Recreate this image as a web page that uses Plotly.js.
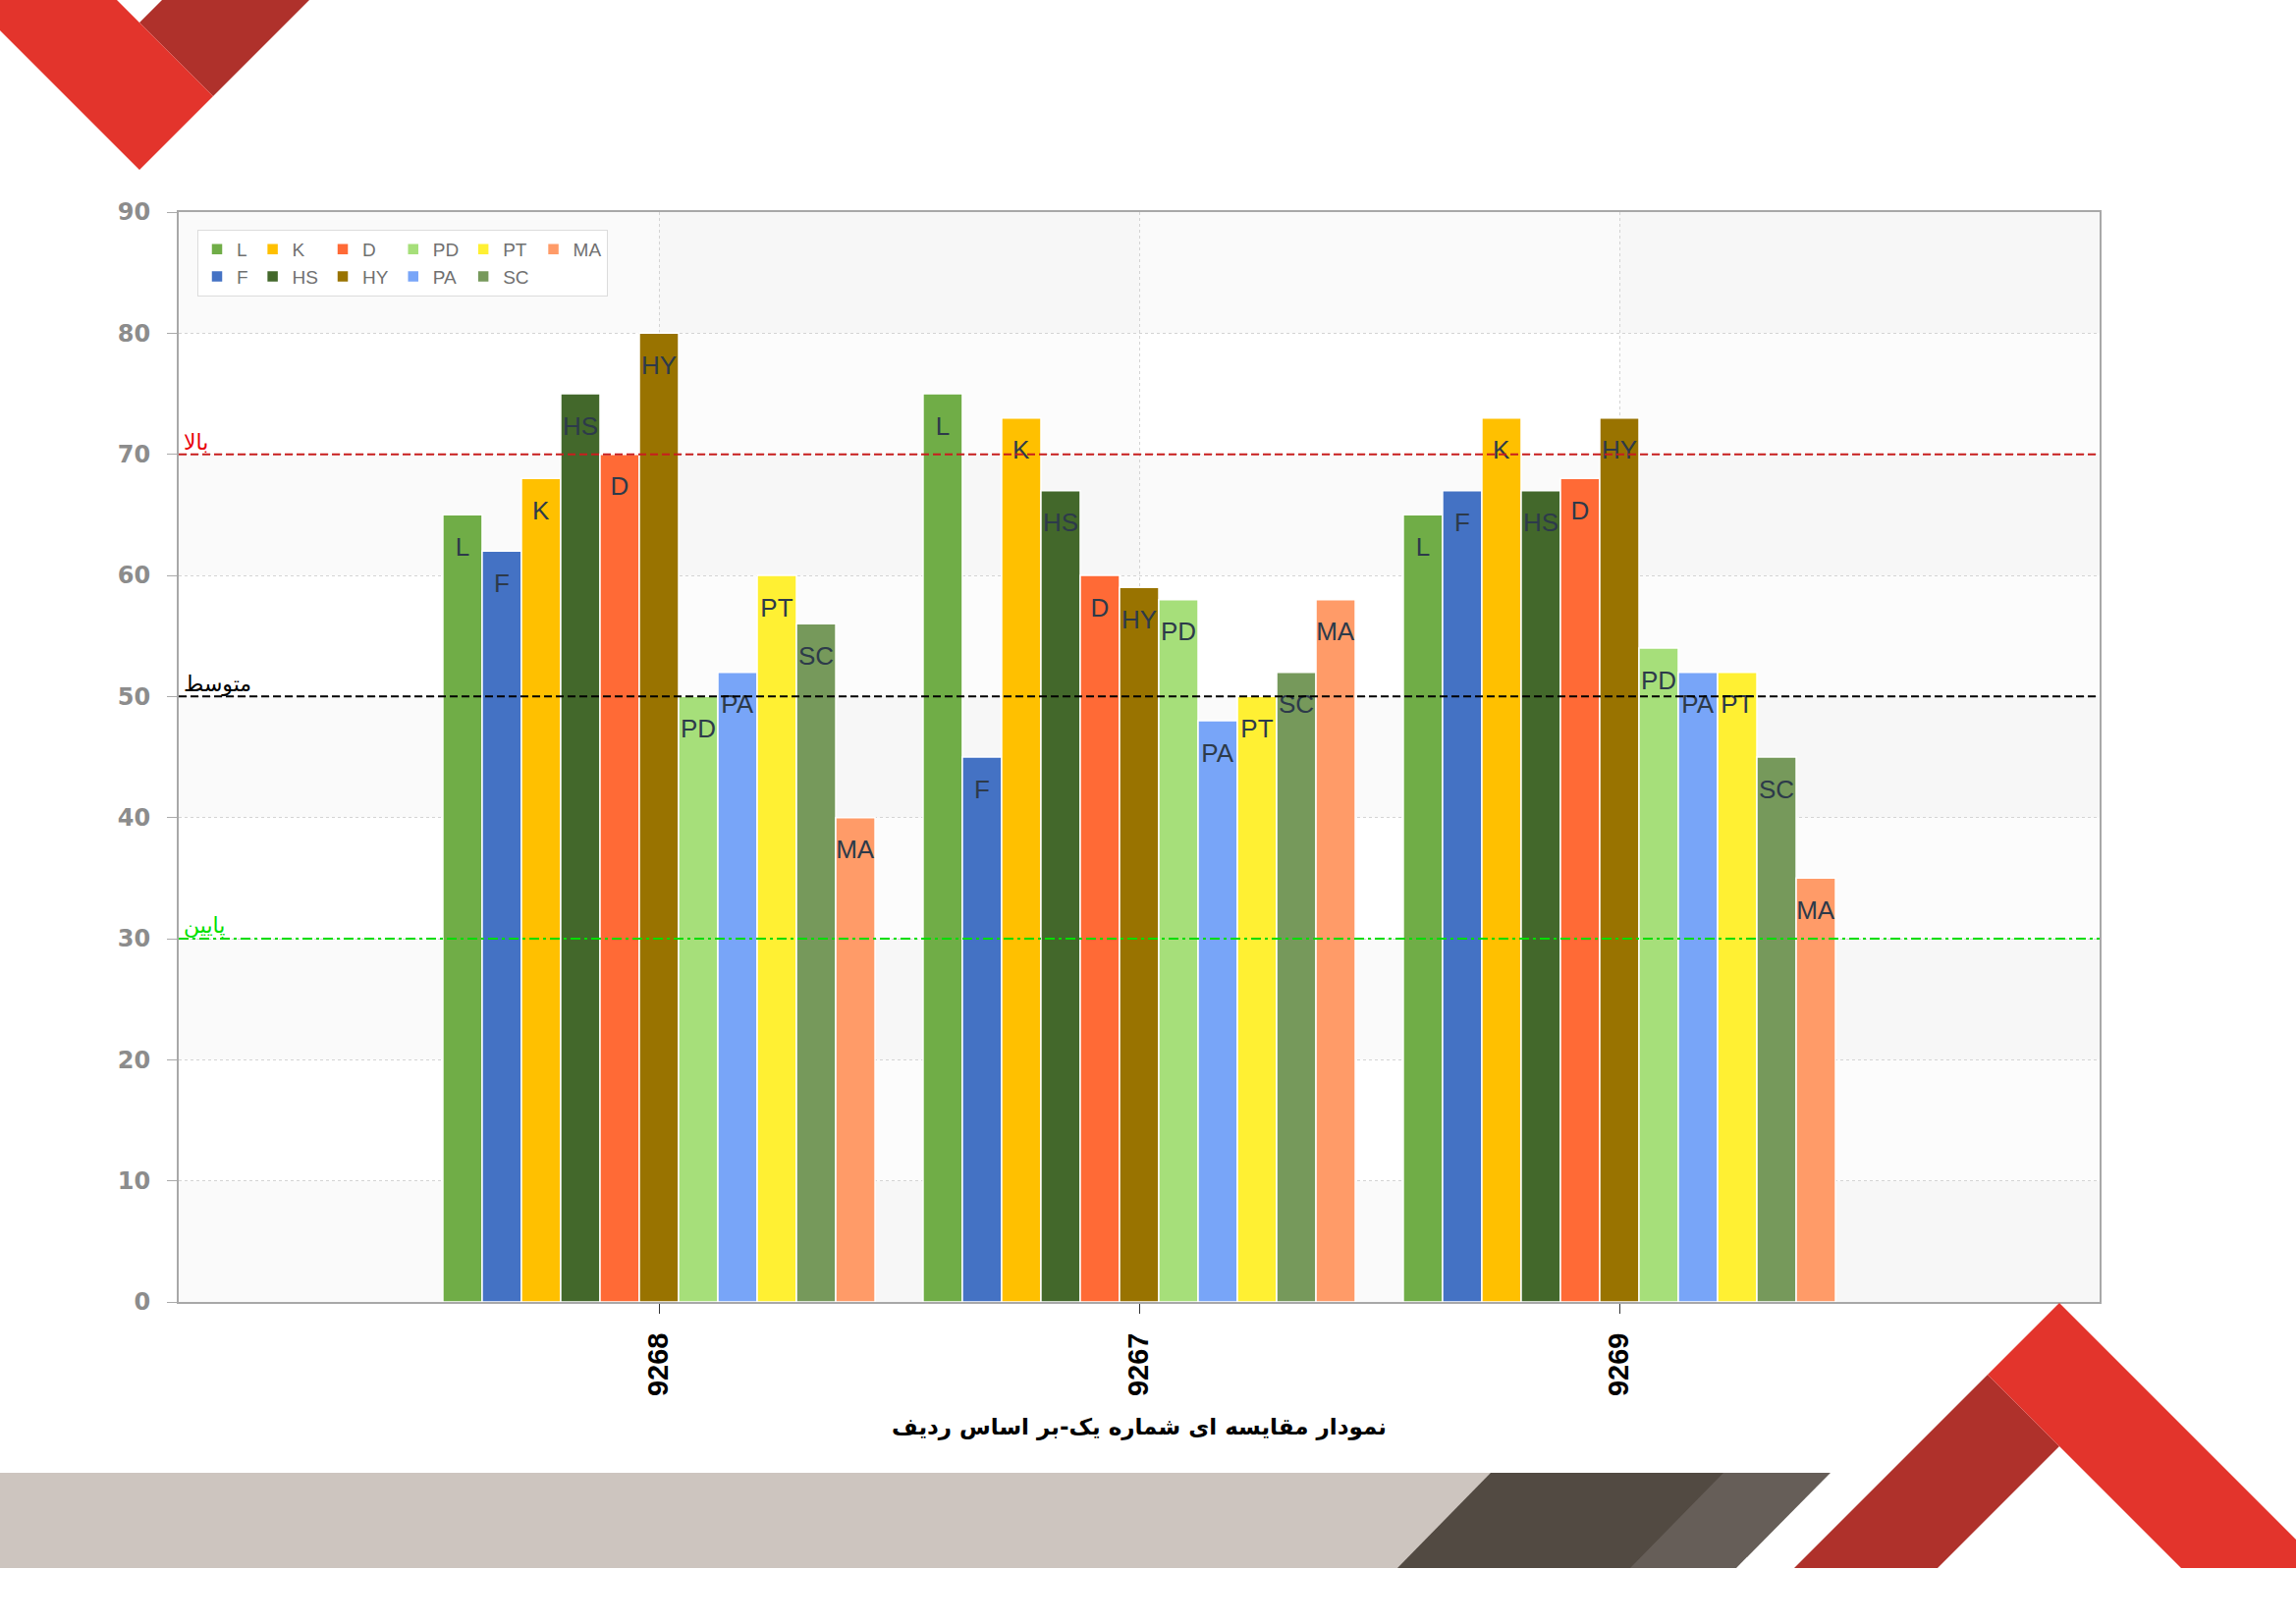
<!DOCTYPE html>
<html>
<head>
<meta charset="utf-8">
<script src="https://cdn.plot.ly/plotly-3.0.1.min.js"></script>
<style>html,body{margin:0;padding:0;background:#fff;}#chart{width:2338px;height:1654px;}</style>
</head>
<body>
<div id="chart"></div>
<script>
// ---- data ----
const categories = ['9268', '9267', '9269'];
const seriesNames = ['L', 'F', 'K', 'HS', 'D', 'HY', 'PD', 'PA', 'PT', 'SC', 'MA'];
const L  = [65, 75, 65];
const F  = [62, 45, 67];
const K  = [68, 73, 73];
const HS = [75, 67, 67];
const D  = [70, 60, 68];
const HY = [80, 59, 73];
const PD = [50, 58, 54];
const PA = [52, 48, 52];
const PT = [60, 50, 52];
const SC = [56, 52, 45];
const MA = [40, 58, 35];
const thresholdValues = [70, 50, 30];
const thresholdLabels = ['بالا', 'متوسط', 'پایین'];
const yTickValues = [0, 10, 20, 30, 40, 50, 60, 70, 80, 90];
const axisTitle = 'نمودار مقایسه ای شماره یک-بر اساس ردیف';

// ---- styles ----
const seriesValues = [L, F, K, HS, D, HY, PD, PA, PT, SC, MA];
const seriesColors = ['#70ad47', '#4472c4', '#ffc000', '#43682b', '#ff6a36', '#997300',
                      '#a6df7a', '#78a5f8', '#fff033', '#76995b', '#ff9b68'];
const legendColumns = ['c1', 'c1', 'c2', 'c2', 'c3', 'c3', 'c4', 'c4', 'c5', 'c5', 'c6'];
const thresholdColors = ['#c81e1e', '#000000', '#00dd00'];
const thresholdLabelColors = ['#e8000b', '#000000', '#00e000'];
const thresholdDash = ['8px,4px', '8px,4px', '10px,4px,3px,4px'];

const traces = seriesNames.map((name, i) => ({
  type: 'bar',
  name: name,
  x: categories,
  y: seriesValues[i],
  legendgroup: legendColumns[i],
  marker: { color: seriesColors[i], line: { color: '#ffffff', width: 1.5 } },
  text: categories.map(() => "<span style='font-size:6px'>\u00a0</span><br>" + name),
  textposition: 'inside',
  insidetextanchor: 'end',
  textangle: 0,
  constraintext: 'none',
  textfont: { family: 'Liberation Sans, Arial, sans-serif', size: 26, color: '#2d3a4a' },
  hoverinfo: 'skip'
}));

// ---- geometry helpers (figure pixels -> paper) ----
const PL = 182, PR = 2138, PT0 = 216, PB = 1326;
const fx = X => (X - PL) / (PR - PL);
const fy = Y => (PB - Y) / (PB - PT0);
const poly = pts => 'M' + pts.map(p => fx(p[0]).toFixed(5) + ',' + fy(p[1]).toFixed(5)).join('L') + 'Z';
const deco = (pts, color) => ({ type: 'path', xref: 'paper', yref: 'paper', path: poly(pts),
  fillcolor: color, line: { width: 0 }, layer: 'above' });

const shapes = [];
// background bands
for (let k = 0; k < 9; k += 2) {
  shapes.push({ type: 'rect', xref: 'paper', yref: 'y', x0: 0, x1: 1, y0: k * 10, y1: k * 10 + 10,
    fillcolor: 'rgba(0,0,0,0.02)', line: { width: 0 }, layer: 'below' });
}
[[0, 1], [2, 3]].forEach(c => shapes.push({ type: 'rect', xref: 'x', yref: 'paper', x0: c[0], x1: c[1], y0: 0, y1: 1,
  fillcolor: 'rgba(0,0,0,0.013)', line: { width: 0 }, layer: 'below' }));
// threshold lines
thresholdValues.forEach((v, i) => shapes.push({ type: 'line', xref: 'paper', yref: 'y', x0: 0, x1: 1, y0: v, y1: v,
  line: { color: thresholdColors[i], width: 2, dash: thresholdDash[i] }, layer: 'above' }));
// decorations
shapes.push(deco([[185, -20], [335, -20], [217, 98], [142, 23]], '#af312b'));
shapes.push(deco([[-51, -20], [99, -20], [217, 98], [142, 173]], '#e3342c'));
shapes.push(deco([[-10, 1500], [1520, 1500], [1425, 1597], [-10, 1597]], '#cdc5bf'));
shapes.push(deco([[1518, 1500], [1758, 1500], [1663, 1597], [1423, 1597]], '#524a42'));
shapes.push(deco([[1755, 1500], [1864, 1500], [1768, 1597], [1660, 1597]], '#665e58'));
shapes.push(deco([[2024, 1400], [2097, 1473], [1973, 1597], [1827, 1597]], '#af312b'));
shapes.push(deco([[2097, 1327], [2024, 1400], [2221, 1597], [2367, 1597]], '#e3342c'));

const annotations = thresholdLabels.map((t, i) => ({
  xref: 'paper', yref: 'y', x: 0, y: thresholdValues[i], xanchor: 'left', yanchor: 'bottom',
  xshift: 3, yshift: -2, text: t, showarrow: false,
  font: { family: 'DejaVu Sans, sans-serif', size: 22, color: thresholdLabelColors[i] }
}));

const layout = {
  width: 2338, height: 1654,
  paper_bgcolor: '#ffffff', plot_bgcolor: '#ffffff',
  margin: { l: PL, r: 2338 - PR, t: PT0, b: 1654 - PB, pad: 0 },
  barmode: 'group', bargap: 0.1, bargroupgap: 0,
  showlegend: true,
  legend: {
    orientation: 'h', x: fx(201), y: fy(234), xanchor: 'left', yanchor: 'top',
    bgcolor: '#ffffff', bordercolor: '#dcdcdc', borderwidth: 1,
    font: { family: 'Liberation Sans, Arial, sans-serif', size: 19, color: '#707070' },
    traceorder: 'grouped', tracegroupgap: 0, itemclick: false, itemdoubleclick: false
  },
  xaxis: {
    type: 'category', categoryorder: 'array', categoryarray: categories, range: [-1, 3],
    showgrid: true, gridcolor: '#d4d4d4', griddash: 'dot', gridwidth: 1,
    ticks: 'outside', ticklen: 10, tickcolor: '#333333', tickwidth: 1,
    tickangle: -90, ticklabelstandoff: 8,
    tickfont: { family: 'Liberation Sans, Arial, sans-serif', size: 29, color: '#000000', weight: 'bold' },
    showline: true, linecolor: '#a8a8a8', linewidth: 2, mirror: true, zeroline: false,
    automargin: false, fixedrange: true,
    title: { text: axisTitle, standoff: 24,
      font: { family: 'DejaVu Sans, sans-serif', size: 23, color: '#000000', weight: 'bold' } }
  },
  xaxis2: {
    overlaying: 'x', anchor: 'y', side: 'bottom', range: [-1, 3], type: 'linear',
    tickmode: 'array', tickvals: [-1, 3], ticks: 'outside', ticklen: 10, tickcolor: '#333333',
    showticklabels: false, showgrid: false, showline: false, zeroline: false, fixedrange: true
  },
  yaxis: {
    range: [0, 90], tickmode: 'array', tickvals: yTickValues,
    showgrid: true, gridcolor: '#d4d4d4', griddash: 'dot', gridwidth: 1,
    ticks: 'outside', ticklen: 10, tickcolor: '#aaaaaa', ticklabelstandoff: 12,
    tickfont: { family: 'DejaVu Sans, sans-serif', size: 24, color: '#8c8c8c', weight: 'bold' },
    showline: true, linecolor: '#a8a8a8', linewidth: 2, mirror: true, zeroline: false,
    automargin: false, fixedrange: true
  },
  shapes: shapes,
  annotations: annotations
};

Plotly.newPlot('chart', traces, layout, { displayModeBar: false, staticPlot: true });
</script>
</body>
</html>
